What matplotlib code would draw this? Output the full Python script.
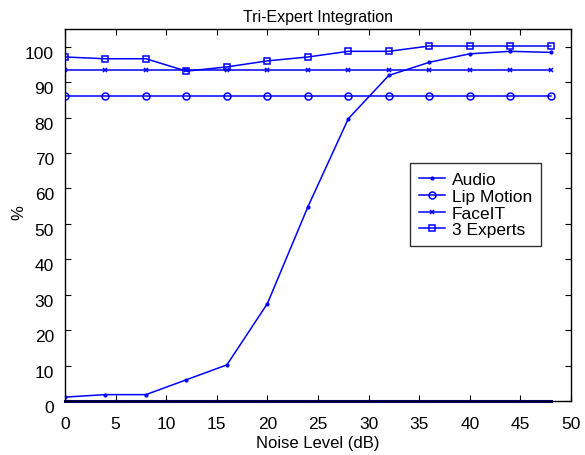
import matplotlib
matplotlib.use("Agg")
import matplotlib.pyplot as plt
from matplotlib.transforms import ScaledTranslation

noise = [0, 4, 8, 12, 16, 20, 24, 28, 32, 36, 40, 44, 48]
audio = [1.1, 1.8, 1.8, 6.0, 10.2, 27.5, 54.8, 79.7, 91.9, 95.6, 98.0, 98.7, 98.4]
lip = [86.2] * 13
faceit = [93.5] * 13
experts = [97.1, 96.6, 96.6, 93.1, 94.3, 96.0, 97.1, 98.7, 98.7, 100.2, 100.2, 100.2, 100.2]
zero = [0] * 13

xticks = [0, 5, 10, 15, 20, 25, 30, 35, 40, 45, 50]
yticks = [0, 10, 20, 30, 40, 50, 60, 70, 80, 90, 100]

plt.rcParams['font.family'] = ['Liberation Sans', 'DejaVu Sans']

fig = plt.figure(figsize=(5.85, 4.56), dpi=100)
ax = fig.add_axes([65/585, 1-402/456, (571-65)/585, (402-30)/456])

blue = '#0000ff'
ax.plot(noise, zero, color='#000080', lw=2.2, zorder=1, clip_on=False)
ax.plot(noise, audio, color=blue, lw=1.1, marker='.', ms=4, label='Audio')
ax.plot(noise, lip, color=blue, lw=1.1, marker='o', ms=5, mfc='none', mew=1.1, label='Lip Motion')
ax.plot(noise, faceit, color=blue, lw=1.1, marker='x', ms=3.5, mew=1.1, label='FaceIT')
ax.plot(noise, experts, color=blue, lw=1.1, marker='s', ms=4.5, mfc='none', mew=1.1, label='3 Experts')

ax.set_xlim(0, 50)
ax.set_ylim(0, 105)
ax.set_xticks(xticks)
ax.set_yticks(yticks)
ax.tick_params(direction='in', top=True, right=True, length=4, width=0.8, labelsize=12.5)
ax.tick_params(axis='x', pad=11)
ax.tick_params(axis='y', pad=8)
for lbl in ax.get_yticklabels():
    lbl.set_transform(lbl.get_transform() + ScaledTranslation(0, -5/100, fig.dpi_scale_trans))
for sp in ax.spines.values():
    sp.set_linewidth(1.0)

ax.set_title('Tri-Expert Integration', fontsize=11.5, pad=6)
ax.set_xlabel('Noise Level (dB)', fontsize=12, labelpad=3)
ax.set_ylabel('%', fontsize=12)
ax.yaxis.set_label_coords((26-65)/506, (402-213)/372)

leg = ax.legend(loc='upper left', bbox_to_anchor=((410-65)/506, (402-164)/372),
                borderaxespad=0, fontsize=12.5, frameon=True, fancybox=False,
                edgecolor='black', handlelength=1.5, handletextpad=0.4,
                labelspacing=0.1, borderpad=0.5)
leg.get_frame().set_linewidth(1.0)

fig.savefig('out.png', dpi=100)
